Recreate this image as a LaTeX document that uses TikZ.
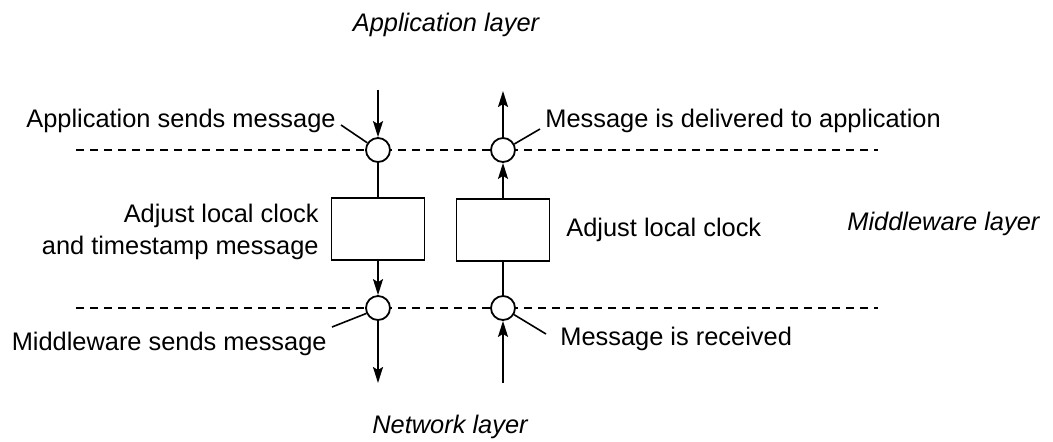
\documentclass[tikz,border=0pt]{standalone}
\usepackage{fontspec}
\setmainfont{Liberation Sans}
\usetikzlibrary{arrows.meta}
\begin{document}
\begin{tikzpicture}[x=0.5pt,y=-0.5pt,
  lbl/.style={inner sep=0pt, font=\fontsize{12.7}{15}\selectfont},
  layer/.style={inner sep=0pt, font=\fontsize{12.7}{15}\selectfont\itshape},
  pt/.style={circle, draw, fill=white, line width=0.9pt, minimum size=12pt, inner sep=0pt},
  proc/.style={draw, line width=0.9pt, minimum width=46.5pt, minimum height=31pt, inner sep=0pt},
  boundary/.style={dash pattern=on 4pt off 3pt, line width=0.7pt},
  flow/.style={line width=0.9pt},
  arr/.style={flow, -{Stealth[length=8pt,width=5pt,inset=1.5pt]}},
  leader/.style={line width=0.8pt}]
\useasboundingbox (0,0) rectangle (1053,441);

% layer boundaries
\coordinate (d1) at (76,150);
\coordinate (d2) at (878,150);
\coordinate (d3) at (76,308);
\coordinate (d4) at (878,308);
\draw[boundary] (d1) -- (d2);
\draw[boundary] (d3) -- (d4);

% event points and boxes
\node[pt] (c1) at (378,150) {};
\node[pt] (c2) at (503,150) {};
\node[pt] (c3) at (378,308) {};
\node[pt] (c4) at (503,308) {};
\node[proc] (b1) at (378,229) {};
\node[proc] (b2) at (503,230) {};

% free ends
\coordinate (a1) at (378,90);
\coordinate (a2) at (503,91);
\coordinate (a3) at (378,383);
\coordinate (a4) at (503,383);

% sending side
\draw[arr] (a1) -- (c1);
\draw[flow] (c1) -- (b1);
\draw[arr] (b1) -- (c3);
\draw[arr] (c3) -- (a3);

% receiving side
\draw[arr] (a4) -- (c4);
\draw[flow] (c4) -- (b2);
\draw[arr] (b2) -- (c2);
\draw[arr] (c2) -- (a2);

% layer names
\node[layer, anchor=base] (appl) at (446,31) {Application layer};
\node[layer, anchor=base] (netl) at (450,433) {Network layer};
\node[layer, anchor=base west] (midl) at (847,230) {Middleware layer};

% labels
\node[lbl, anchor=base east] (l1) at (336,127) {Application sends message};
\node[lbl, anchor=base west] (l2) at (545,127) {Message is delivered to application};
\node[lbl, anchor=base east] (l3a) at (319,222) {Adjust local clock};
\node[lbl, anchor=base east] (l3b) at (319,254) {and timestamp message};
\node[lbl, anchor=base west] (l4) at (566,236) {Adjust local clock};
\node[lbl, anchor=base east] (l5) at (327,350) {Middleware sends message};
\node[lbl, anchor=base west] (l6) at (560,345) {Message is received};

% leaders
\coordinate (k1) at (341,125);
\coordinate (k2) at (540,129);
\coordinate (k3) at (332,327);
\coordinate (k4) at (546,334);
\draw[leader] (c1.146) -- (k1);
\draw[leader] (c2.28) -- (k2);
\draw[leader] (c3.205) -- (k3);
\draw[leader] (c4.-31) -- (k4);
\end{tikzpicture}
\end{document}
